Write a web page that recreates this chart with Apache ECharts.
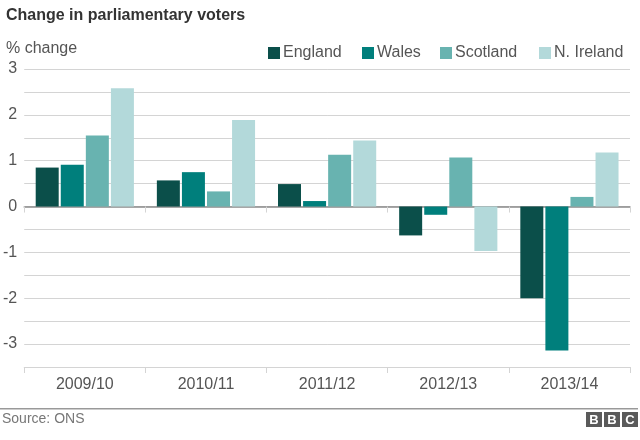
<!DOCTYPE html>
<html>
<head>
<meta charset="utf-8">
<script src="https://cdn.jsdelivr.net/npm/echarts@6/dist/echarts.min.js"></script>
<style>html,body{margin:0;padding:0;background:#fff}#c{width:640px;height:440px}</style>
</head>
<body>
<div id="c"></div>
<script>
const categories = ['2009/10', '2010/11', '2011/12', '2012/13', '2013/14'];
const england = [0.85, 0.57, 0.49, -0.63, -2.0];
const wales = [0.91, 0.75, 0.12, -0.18, -3.14];
const scotland = [1.55, 0.33, 1.13, 1.07, 0.21];
const nIreland = [2.58, 1.89, 1.44, -0.97, 1.18];
const seriesNames = ['England', 'Wales', 'Scotland', 'N. Ireland'];
const colors = ['#0b4f4a', '#007f7c', '#68b3b0', '#b3d9da'];
const legendLeft = [268, 362, 440, 539];

const FONT = '"Liberation Sans", Arial, sans-serif';
const chart = echarts.init(document.getElementById('c'), null, {renderer: 'canvas'});
const data = [england, wales, scotland, nIreland];

const option = {
  animation: false,
  textStyle: {fontFamily: FONT},
  grid: {left: 22, right: 10, top: 69, bottom: 73, containLabel: false},
  legend: seriesNames.map((n, i) => ({
    data: [n], left: legendLeft[i], top: 45, itemWidth: 12, itemHeight: 12, itemGap: 0,
    icon: 'rect', textStyle: {fontSize: 16, color: '#555', fontFamily: FONT, padding: [0, 0, 0, -2]},
    selectedMode: false, padding: 0
  })),
  xAxis: [
    {
      type: 'category', data: categories, position: 'bottom',
      axisLine: {onZero: false, lineStyle: {color: '#d4d4d4', width: 1}},
      axisTick: {show: true, length: 6, lineStyle: {color: '#d4d4d4'}},
      axisLabel: {fontSize: 16, color: '#555', margin: 10, fontFamily: FONT},
      splitLine: {show: false}
    },
    {
      type: 'category', data: categories, position: 'top',
      axisLine: {onZero: true, lineStyle: {color: '#8a8a8a', width: 1.5}},
      axisTick: {show: true, inside: true, length: 6, lineStyle: {color: '#d4d4d4'}},
      axisLabel: {show: false},
      splitLine: {show: false}
    }
  ],
  yAxis: {
    type: 'value', min: -3.5, max: 3, interval: 0.5,
    axisLine: {show: false}, axisTick: {show: false},
    axisLabel: {fontSize: 16, color: '#555', margin: 7, fontFamily: FONT,
      formatter: v => (Math.abs(v - Math.round(v)) < 1e-9 ? String(Math.round(v)) : '')},
    splitLine: {lineStyle: {color: '#d4d4d4', width: 1}}
  },
  series: seriesNames.map((n, i) => ({
    name: n, type: 'bar', xAxisIndex: 0, data: data[i],
    itemStyle: {color: colors[i]},
    barWidth: 23, barGap: '9%'
  })),
  graphic: [
    {type: 'text', left: 6, top: 8, style: {text: 'Change in parliamentary voters', font: 'bold 16px ' + FONT, fill: '#333'}},
    {type: 'text', left: 6, top: 41, style: {text: '% change', font: '16px ' + FONT, fill: '#555'}},
    {type: 'rect', shape: {x: 0, y: 408, width: 638, height: 1.5}, style: {fill: '#999'}},
    {type: 'text', left: 2, top: 412, style: {text: 'Source: ONS', font: '14px ' + FONT, fill: '#777'}},
    {type: 'rect', shape: {x: 586, y: 412, width: 16, height: 15}, style: {fill: '#5a5a5a'}},
    {type: 'rect', shape: {x: 604, y: 412, width: 16, height: 15}, style: {fill: '#5a5a5a'}},
    {type: 'rect', shape: {x: 622, y: 412, width: 16, height: 15}, style: {fill: '#5a5a5a'}},
    {type: 'text', x: 594, y: 420, style: {text: 'B', font: 'bold 13px ' + FONT, fill: '#fff', align: 'center', verticalAlign: 'middle'}},
    {type: 'text', x: 612, y: 420, style: {text: 'B', font: 'bold 13px ' + FONT, fill: '#fff', align: 'center', verticalAlign: 'middle'}},
    {type: 'text', x: 630, y: 420, style: {text: 'C', font: 'bold 13px ' + FONT, fill: '#fff', align: 'center', verticalAlign: 'middle'}}
  ]
};
chart.setOption(option);
</script>
</body>
</html>
